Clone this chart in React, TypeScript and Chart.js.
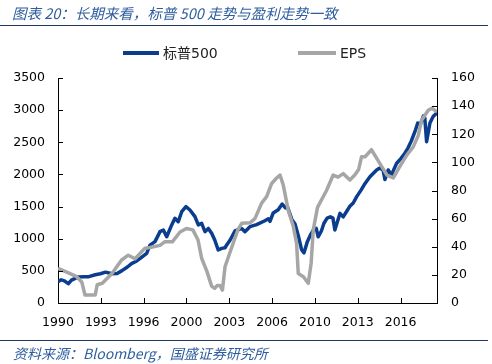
import React, { useEffect, useRef } from "react";
import { Chart, registerables } from "chart.js";

Chart.register(...registerables);

// S&P 500 index (left axis), decimal-year dates
const spxDates = [
  1990.0, 1990.25, 1990.5, 1990.8, 1991.05, 1991.3, 1991.6, 1992.0, 1992.4, 1992.9,
  1993.3, 1993.7, 1994.2, 1994.6, 1994.95, 1995.4, 1995.75, 1996.1, 1996.4, 1996.9,
  1997.16, 1997.55, 1997.94, 1998.2, 1998.46, 1998.85, 1999.1, 1999.36, 1999.63, 1999.96,
  2000.27, 2000.66, 2000.92, 2001.18, 2001.44, 2001.7, 2001.96, 2002.2, 2002.47, 2002.74,
  2003.0, 2003.13, 2003.4, 2003.77, 2004.3, 2004.55, 2004.94, 2005.46, 2006.1, 2006.37,
  2006.5, 2006.75, 2007.14, 2007.45, 2007.7, 2007.85, 2008.2, 2008.45, 2008.7, 2008.96,
  2009.15, 2009.4, 2009.65, 2009.9, 2010.1, 2010.25, 2010.5, 2010.7, 2010.95, 2011.2,
  2011.4, 2011.55, 2011.95, 2012.2, 2012.45, 2012.7, 2012.98, 2013.25, 2013.6, 2013.9,
  2014.28, 2014.8, 2015.05, 2015.3, 2015.45, 2015.7, 2015.95, 2016.1, 2016.35, 2016.7,
  2017.0, 2017.24, 2017.5, 2017.78, 2018.0, 2018.2, 2018.45, 2018.55, 2018.69, 2018.95,
  2019.2, 2019.5,
];
const spxValues = [
  330, 360, 345, 300, 355, 380, 405, 410, 410, 440,
  455, 480, 455, 460, 500, 560, 617, 650, 695, 773,
  900, 955, 1110, 1135, 1030, 1215, 1318, 1265, 1420, 1500,
  1447, 1343, 1215, 1240, 1110, 1160, 1085, 980, 825, 850,
  860, 902, 980, 1120, 1160, 1110, 1187, 1220, 1280, 1310,
  1270, 1400, 1450, 1540, 1480, 1500, 1300, 1230, 1050, 830,
  780, 950, 1060, 1140, 1160, 1030, 1120, 1240, 1320, 1340,
  1320, 1135, 1395, 1340, 1420, 1500, 1555, 1655, 1760, 1860,
  1965, 2070, 2100, 2070, 1920, 2070, 1990, 2060, 2170, 2250,
  2330, 2410, 2520, 2665, 2800, 2780, 2910, 2880, 2510, 2800,
  2900, 2960,
];

// EPS (right axis)
const epsDates = [
  1990.0, 1990.9, 1991.45, 1991.85, 1992.1, 1992.9, 1993.05, 1993.45, 1994.2, 1994.95,
  1995.47, 1996.0, 1996.77, 1997.16, 1997.94, 1998.3, 1998.9, 1999.5, 2000.0, 2000.5,
  2000.9, 2001.18, 2001.57, 2001.96, 2002.2, 2002.4, 2002.6, 2002.8, 2003.0, 2003.45,
  2004.0, 2004.3, 2004.94, 2005.33, 2005.85, 2006.24, 2006.63, 2007.0, 2007.28, 2007.53,
  2007.92, 2008.3, 2008.57, 2008.7, 2009.1, 2009.48, 2009.7, 2009.87, 2010.2, 2010.9,
  2011.42, 2011.8, 2012.2, 2012.72, 2013.1, 2013.4, 2013.63, 2013.9, 2014.4, 2014.8,
  2015.2, 2015.6, 2016.1, 2016.6, 2017.13, 2017.65, 2018.04, 2018.3, 2018.82, 2019.1,
  2019.5,
];
const epsValues = [
  24.7, 21, 18.7, 15, 5.7, 5.7, 13, 14, 21, 30.6,
  34, 31.5, 39, 39.5, 41, 43.5, 43.5, 50.5, 53, 52,
  44.8, 31.8, 23, 12, 10.4, 12.5, 12.5, 9.2, 25.8, 37.7,
  52, 56.7, 57, 60, 71, 75.6, 85, 88.7, 91, 84,
  66, 55, 42.4, 21, 18.7, 14, 28, 52, 68, 80,
  91, 89.5, 92, 87.5, 91, 95, 104, 104, 109, 103,
  97, 91, 89, 97, 105, 111, 119, 130, 137, 138.5,
  136,
];

const leftTicks = [0, 500, 1000, 1500, 2000, 2500, 3000, 3500];
const rightTicks = [0, 20, 40, 60, 80, 100, 120, 140, 160];
const xTickMonths = [0, 40, 80, 120, 160, 200, 240, 280, 320];
const xTickLabels = ["1990", "1993", "1996", "2000", "2003", "2006", "2010", "2013", "2016"];

const BLUE = "#0B3D8E";
const GRAY = "#A6A6A6";
const NAVY = "#1F3864";
const TEXTBLUE = "#2E5E9E";
const AXIS_FONT = { family: "'DejaVu Sans', sans-serif", size: 12.5 };

const innerTicks = {
  id: "innerTicks",
  afterDraw(chart: any) {
    const { ctx, chartArea, scales } = chart;
    const L = 5;
    ctx.save();
    ctx.strokeStyle = "#000";
    ctx.lineWidth = 1;
    ctx.beginPath();
    scales.x.ticks.forEach((t: any) => {
      const px = Math.round(scales.x.getPixelForValue(t.value)) + 0.5;
      ctx.moveTo(px, chartArea.bottom);
      ctx.lineTo(px, chartArea.bottom - L);
    });
    scales.y.ticks.forEach((t: any) => {
      const py = Math.round(scales.y.getPixelForValue(t.value)) + 0.5;
      ctx.moveTo(chartArea.left, py);
      ctx.lineTo(chartArea.left + L, py);
    });
    scales.y1.ticks.forEach((t: any) => {
      const py = Math.round(scales.y1.getPixelForValue(t.value)) + 0.5;
      ctx.moveTo(chartArea.right, py);
      ctx.lineTo(chartArea.right - L, py);
    });
    ctx.stroke();
    ctx.restore();
  },
};

export default function App() {
  const ref = useRef<HTMLCanvasElement>(null);

  useEffect(() => {
    const chart = new Chart(ref.current!, {
      type: "line",
      data: {
        datasets: [
          {
            label: "标普500",
            data: spxDates.map((d, i) => ({ x: d, y: spxValues[i] })),
            yAxisID: "y",
            borderColor: BLUE,
            backgroundColor: BLUE,
            borderWidth: 3.5,
            pointRadius: 0,
            tension: 0,
            borderJoinStyle: "round",
            order: 2,
          },
          {
            label: "EPS",
            data: epsDates.map((d, i) => ({ x: d, y: epsValues[i] })),
            yAxisID: "y1",
            borderColor: GRAY,
            backgroundColor: GRAY,
            borderWidth: 3.5,
            pointRadius: 0,
            tension: 0,
            borderJoinStyle: "round",
            order: 1,
          },
        ],
      },
      options: {
        responsive: false,
        animation: false,
        layout: { padding: { top: 78, left: 0, right: 0, bottom: 0 } },
        plugins: { legend: { display: false }, tooltip: { enabled: false } },
        scales: {
          x: {
            type: "linear",
            min: 1990,
            max: 2019.5,
            grid: { display: false, drawTicks: false },
            border: { display: true, color: "#000", width: 1 },
            afterBuildTicks: (s: any) => {
              s.ticks = xTickMonths.map((m) => ({ value: 1990 + m / 12 }));
            },
            afterFit: (s: any) => {
              s.height = 61;
            },
            ticks: {
              autoSkip: false,
              maxRotation: 0,
              padding: 12,
              color: "#000",
              font: AXIS_FONT,
              callback: (_v: any, i: number) => xTickLabels[i],
            },
          },
          y: {
            position: "left",
            min: 0,
            max: 3500,
            grid: { display: false, drawTicks: false },
            border: { display: true, color: "#000", width: 1 },
            afterBuildTicks: (s: any) => {
              s.ticks = leftTicks.map((v) => ({ value: v }));
            },
            afterFit: (s: any) => {
              s.width = 58;
            },
            ticks: { padding: 13, color: "#000", font: AXIS_FONT, callback: (v: any) => String(v) },
          },
          y1: {
            position: "right",
            min: 0,
            max: 160,
            grid: { display: false, drawTicks: false },
            border: { display: true, color: "#000", width: 1 },
            afterBuildTicks: (s: any) => {
              s.ticks = rightTicks.map((v) => ({ value: v }));
            },
            afterFit: (s: any) => {
              s.width = 55;
            },
            ticks: { padding: 14, color: "#000", font: AXIS_FONT, callback: (v: any) => String(v) },
          },
        },
      } as any,
      plugins: [innerTicks],
    });
    return () => chart.destroy();
  }, []);

  const legendText: React.CSSProperties = {
    position: "absolute",
    top: 44,
    fontFamily: "'DejaVu Sans', 'Noto Sans CJK SC', sans-serif",
    fontSize: 14,
    lineHeight: "18px",
    color: "#222",
    whiteSpace: "nowrap",
  };

  return (
    <div style={{ position: "absolute", left: 0, top: 0, width: 492, height: 364, background: "#fff", overflow: "hidden" }}>
      <canvas ref={ref} width={492} height={364} style={{ position: "absolute", left: 0, top: 0, width: 492, height: 364 }} />
      <div
        style={{
          position: "absolute",
          left: 12,
          top: 3,
          fontFamily: "'Noto Sans CJK SC', sans-serif",
          fontStyle: "italic",
          fontSize: 14.5,
          lineHeight: "20px",
          color: TEXTBLUE,
          whiteSpace: "nowrap",
        }}
      >
        图表 20：长期来看，标普 500 走势与盈利走势一致
      </div>
      <div style={{ position: "absolute", left: 0, top: 25, width: 488, height: 1, background: NAVY }} />
      <div style={{ position: "absolute", left: 123, top: 51, width: 36, height: 4, background: BLUE }} />
      <div style={{ ...legendText, left: 163 }}>标普500</div>
      <div style={{ position: "absolute", left: 298, top: 51, width: 38, height: 4, background: GRAY }} />
      <div style={{ ...legendText, left: 340 }}>EPS</div>
      <div style={{ position: "absolute", left: 0, top: 340, width: 488, height: 1, background: NAVY }} />
      <div
        style={{
          position: "absolute",
          left: 13,
          top: 343,
          fontFamily: "'Noto Sans CJK SC', sans-serif",
          fontStyle: "italic",
          fontSize: 14,
          lineHeight: "20px",
          color: TEXTBLUE,
          whiteSpace: "nowrap",
        }}
      >
        资料来源：Bloomberg，国盛证券研究所
      </div>
    </div>
  );
}
